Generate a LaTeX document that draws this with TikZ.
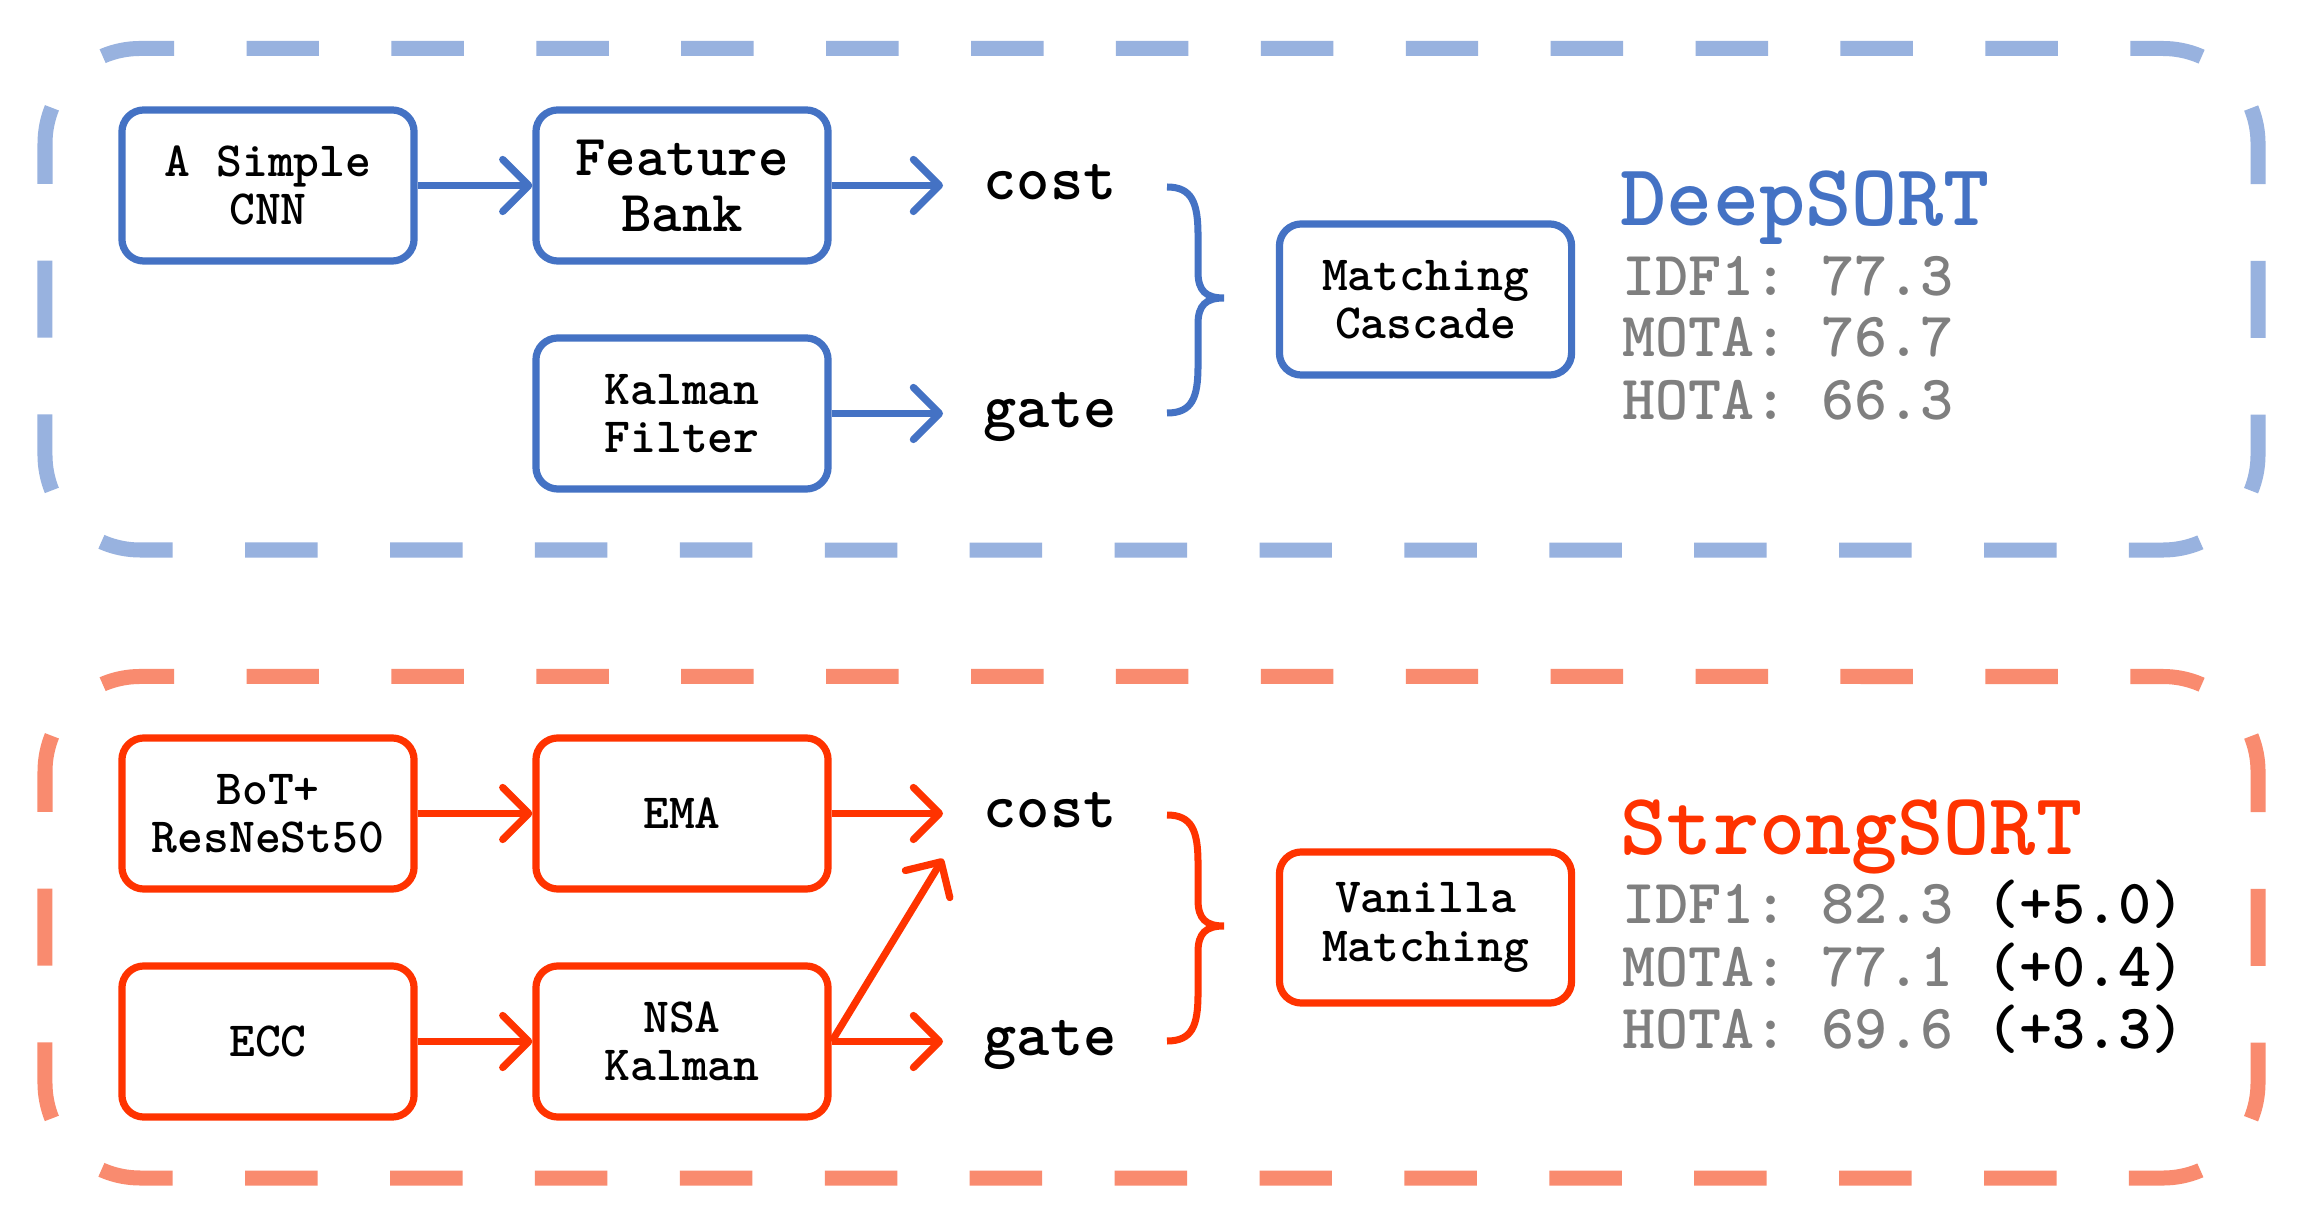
\documentclass[tikz,border=0pt]{standalone}
\usetikzlibrary{arrows.meta}
\definecolor{dblue}{HTML}{4472C4}
\definecolor{lblue}{HTML}{98B2DF}
\definecolor{dred}{HTML}{FF3300}
\definecolor{lred}{HTML}{F98B6F}
\definecolor{mgray}{HTML}{7F7F7F}
\frenchspacing
\newcommand\bxfont{\ttfamily\bfseries\fontsize{14}{13.7}\selectfont}
\newcommand\bigbxfont{\ttfamily\bfseries\fontsize{16.5}{15.9}\selectfont}
\newcommand\lblfont{\ttfamily\bfseries\fontsize{18}{20}\selectfont}
\newcommand\titfont{\ttfamily\bfseries\fontsize{25}{28}\selectfont}
\newcommand\metfont{\ttfamily\bfseries\fontsize{17.9}{20}\selectfont\frenchspacing}
\newcommand\dashpanel[1]{%
 \draw[#1, line width=0.15cm, dash pattern=on 0.7241cm off 0.7241cm, dash phase=1.0862cm]
   (72.82,76.32) arc[start angle=135,end angle=90,radius=0.95cm] -- (2163,48.5) arc[start angle=90,end angle=45,radius=0.95cm];
 \draw[#1, line width=0.15cm, dash pattern=on 0.7241cm off 0.7241cm, dash phase=1.0862cm]
   (2230.18,522.18) arc[start angle=-45,end angle=-90,radius=0.95cm] -- (140,550) arc[start angle=-90,end angle=-135,radius=0.95cm];
 \draw[#1, line width=0.15cm, dash pattern=on 0.77cm off 0.7658cm, dash phase=1.1529cm]
   (2230.18,76.32) arc[start angle=45,end angle=0,radius=0.95cm] -- (2258,455) arc[start angle=0,end angle=-45,radius=0.95cm];
 \draw[#1, line width=0.15cm, dash pattern=on 0.77cm off 0.7658cm, dash phase=1.1529cm]
   (72.82,522.18) arc[start angle=-135,end angle=-180,radius=0.95cm] -- (45,143.5) arc[start angle=180,end angle=135,radius=0.95cm];
}
\newcommand\bracepath[1]{%
 \draw[#1, line width=0.07cm]
  (1167,187) .. controls (1192,187) and (1198,203) .. (1198,235) -- (1198,272)
  .. controls (1198,291) and (1206,298) .. (1224,298)
  .. controls (1206,298) and (1198,305) .. (1198,324) -- (1198,366)
  .. controls (1198,398) and (1192,413) .. (1167,413);
}
\tikzset{
 bbox/.style={draw=dblue, line width=0.072cm, rounded corners=0.22cm, minimum width=2.92cm,
   minimum height=1.51cm, align=center, inner sep=0pt, font=\bxfont, fill=white},
 rbox/.style={bbox, draw=dred},
 barr/.style={draw=dblue, line width=0.072cm, -{Straight Barb[length=0.26cm,width=0.52cm,round]}},
 rarr/.style={barr, draw=dred},
 lbl/.style={font=\lblfont, text height=0.27cm, text depth=0pt, inner xsep=0.40cm,
   inner ysep=0.31cm, anchor=west},
 met/.style={font=\metfont, text=mgray, inner sep=0pt, anchor=base west},
 tit/.style={font=\titfont, inner sep=0pt, anchor=base west}
}
\begin{document}
\begin{tikzpicture}[x=0.01cm,y=-0.01cm]
\useasboundingbox[fill=white] (0,0) rectangle (2303,1228);
% ---------- DeepSORT panel ----------
\dashpanel{lblue}
\node[bbox] (cnn) at (268,185.5) {A Simple\\CNN};
\node[bbox, font=\bigbxfont] (fb) at (682,185.5) {Feature\\Bank};
\node[bbox] (kf) at (682,413.5) {Kalman\\Filter};
\node[lbl] (cost1) at (943,185.5) {cost};
\node[lbl] (gate1) at (943,413.5) {gate};
\node[bbox] (mc) at (1425.5,299.5) {Matching\\Cascade};
\draw[barr] (cnn) -- (fb);
\draw[barr] (fb) -- (cost1);
\draw[barr] (kf) -- (gate1);
\bracepath{dblue}
\node[tit, text=dblue] (deep) at (1620,226) {DeepSORT};
\node[met] (idfa) at (1622,296) {IDF1: 77.3};
\node[met] (motaa) at (1622,357) {MOTA: 76.7};
\node[met] (hotaa) at (1622,420) {HOTA: 66.3};
% ---------- StrongSORT panel ----------
\begin{scope}[shift={(0,628)}]
\dashpanel{lred}
\bracepath{dred}
\end{scope}
\node[rbox] (bot) at (268,813.5) {BoT+\\ResNeSt50};
\node[rbox] (ema) at (682,813.5) {EMA};
\node[rbox] (ecc) at (268,1041.5) {ECC};
\node[rbox] (nsa) at (682,1041.5) {NSA\\Kalman};
\node[lbl] (cost2) at (943,813.5) {cost};
\node[lbl] (gate2) at (943,1041.5) {gate};
\node[rbox] (vm) at (1425.5,927.5) {Vanilla\\Matching};
\draw[rarr] (bot) -- (ema);
\draw[rarr] (ecc) -- (nsa);
\draw[rarr] (ema) -- (cost2);
\draw[rarr] (nsa) -- (gate2);
\draw[rarr] (nsa.east) -- (cost2.south west);
\node[tit, text=dred] (strong) at (1620,854) {StrongSORT};
\node[met] (idfb) at (1622,923) {IDF1: 82.3 \textcolor{black}{(+5.0)}};
\node[met] (motab) at (1622,986) {MOTA: 77.1 \textcolor{black}{(+0.4)}};
\node[met] (hotab) at (1622,1048) {HOTA: 69.6 \textcolor{black}{(+3.3)}};
\end{tikzpicture}
\end{document}
